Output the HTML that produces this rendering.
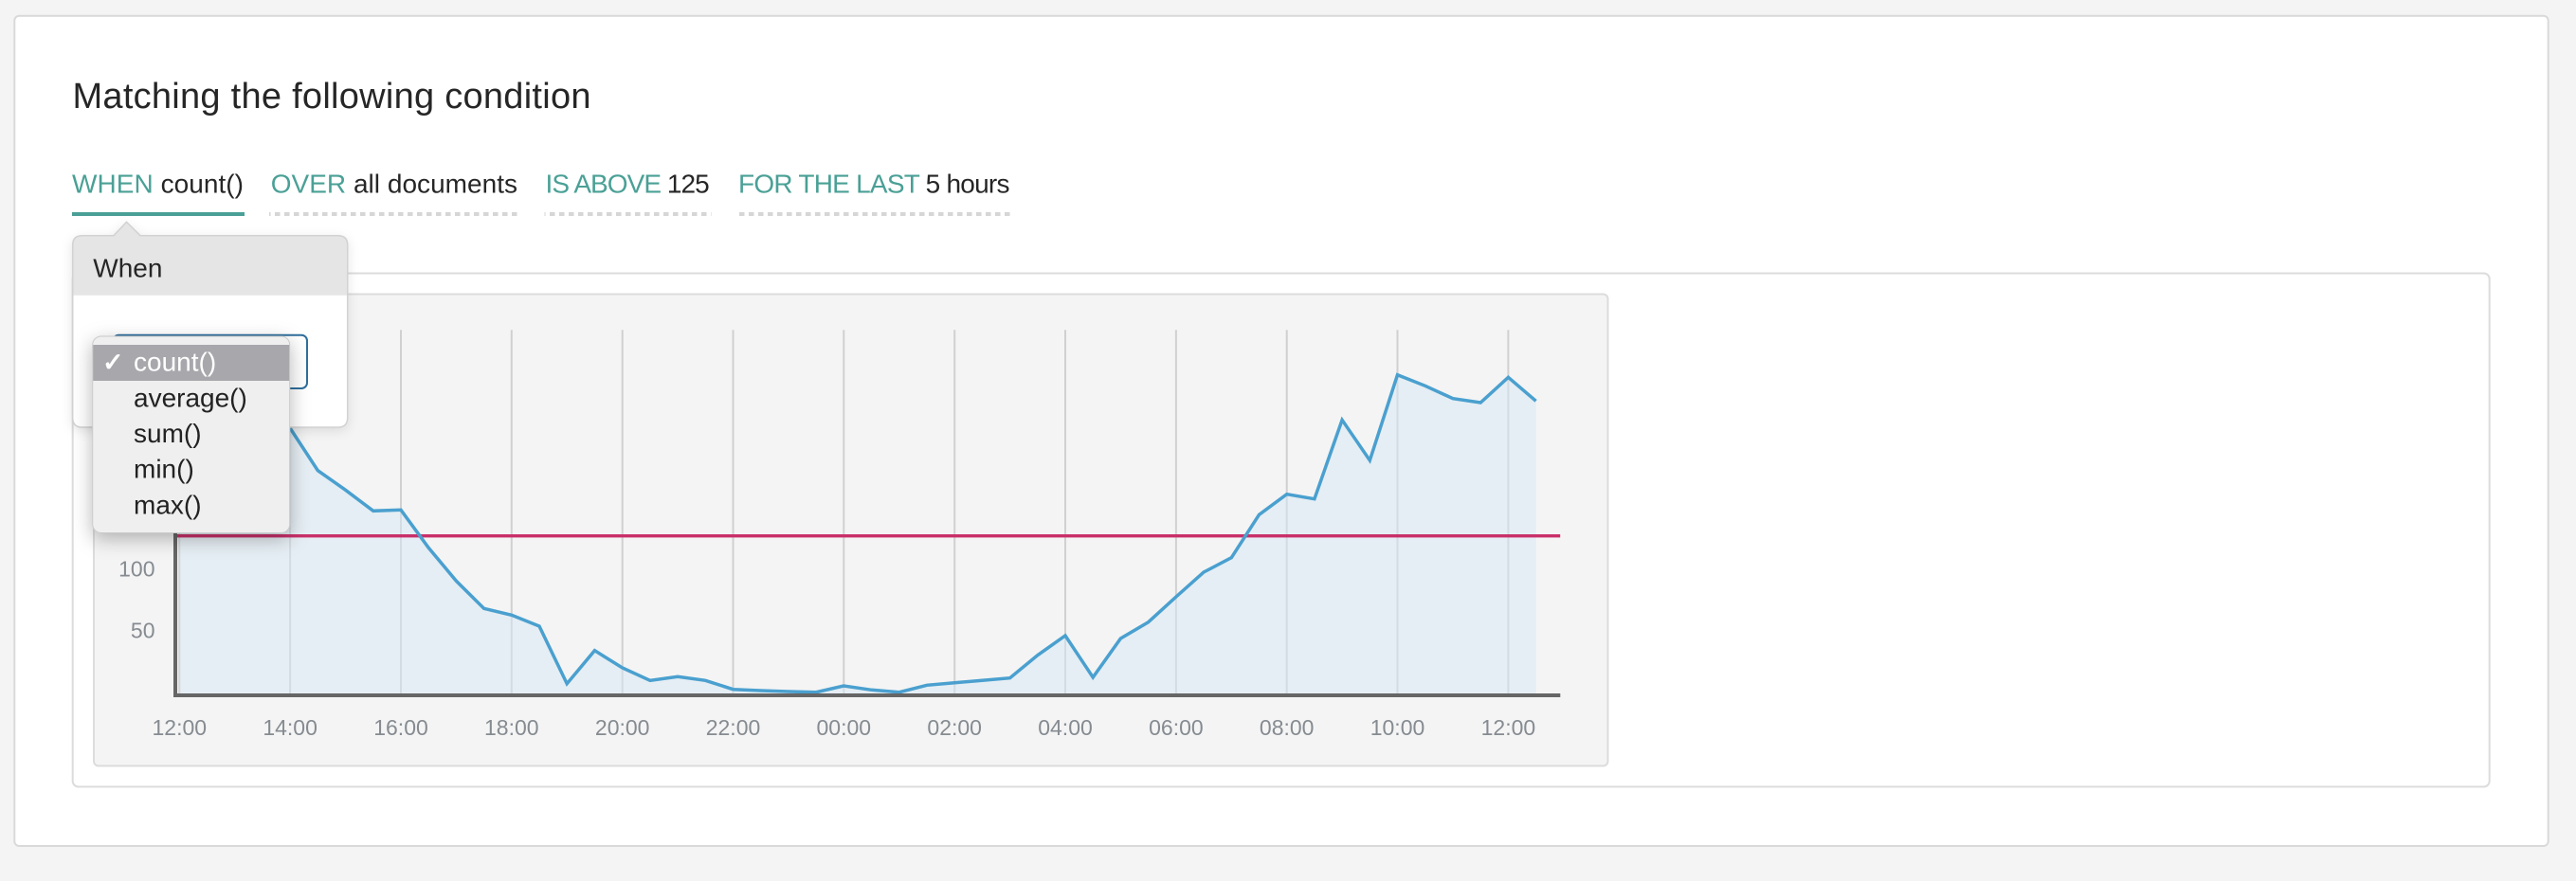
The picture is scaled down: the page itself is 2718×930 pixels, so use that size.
<!DOCTYPE html>
<html>
<head>
<meta charset="utf-8">
<style>
  html, body { margin:0; padding:0; background:#f4f4f4; }
  body { width:2718px; height:930px; overflow:hidden; }
  svg { display:block; font-family:"Liberation Sans", Arial, sans-serif; }
</style>
</head>
<body>
<svg width="2718" height="930" viewBox="0 0 2718 930" xmlns="http://www.w3.org/2000/svg">
  <defs>
    <filter id="popShadow" x="-20%" y="-20%" width="140%" height="150%">
      <feDropShadow dx="0" dy="3" stdDeviation="6" flood-color="#000" flood-opacity="0.12"/>
    </filter>
    <filter id="ddShadow" x="-30%" y="-30%" width="160%" height="160%">
      <feDropShadow dx="0" dy="6" stdDeviation="10" flood-color="#000" flood-opacity="0.28"/>
    </filter>
    <pattern id="dots" x="0" y="0" width="10" height="4" patternUnits="userSpaceOnUse">
      <rect x="0" y="0" width="5.5" height="4" fill="#d6d6d6"/>
    </pattern>
  </defs>

  <!-- page background -->
  <rect x="0" y="0" width="2718" height="930" fill="#f4f4f4"/>

  <!-- outer white panel -->
  <rect x="15.3" y="16.7" width="2673.4" height="876.3" rx="5" ry="5" fill="#ffffff" stroke="#d9d9d9" stroke-width="2"/>

  <!-- Title -->
  <text x="76.5" y="114" font-size="38" fill="#262626" textLength="547">Matching the following condition</text>

  <!-- Tabs -->
  <text x="76" y="203.3" font-size="28" textLength="181"><tspan fill="#4aa096">WHEN</tspan><tspan fill="#262626"> count()</tspan></text>
  <text x="285.7" y="203.3" font-size="28" textLength="260.3"><tspan fill="#4aa096">OVER</tspan><tspan fill="#262626"> all documents</tspan></text>
  <text x="575.5" y="203.3" font-size="28" textLength="173.2"><tspan fill="#4aa096">IS ABOVE</tspan><tspan fill="#262626"> 125</tspan></text>
  <text x="779" y="203.3" font-size="28" textLength="286.5"><tspan fill="#4aa096">FOR THE LAST</tspan><tspan fill="#262626"> 5 hours</tspan></text>

  <!-- Tab underlines -->
  <rect x="76" y="224" width="182" height="4" fill="#4aa096"/>
  <rect x="284" y="224" width="264" height="4" fill="url(#dots)"/>
  <rect x="574.5" y="224" width="176" height="4" fill="url(#dots)"/>
  <rect x="778" y="224" width="290" height="4" fill="url(#dots)"/>

  <!-- white chart container -->
  <rect x="76.7" y="288.5" width="2550" height="542" rx="6" ry="6" fill="#ffffff" stroke="#dcdcdc" stroke-width="2"/>

  <!-- gray chart panel -->
  <rect x="99" y="310.5" width="1597.5" height="498" rx="5" ry="5" fill="#f4f4f4" stroke="#dcdcdc" stroke-width="2"/>

  <!-- grid lines -->
  <g stroke="#d0d0d0" stroke-width="2">
    <line x1="189.3" y1="348.3" x2="189.3" y2="732"/>
    <line x1="306.1" y1="348.3" x2="306.1" y2="732"/>
    <line x1="423.0" y1="348.3" x2="423.0" y2="732"/>
    <line x1="539.8" y1="348.3" x2="539.8" y2="732"/>
    <line x1="656.7" y1="348.3" x2="656.7" y2="732"/>
    <line x1="773.5" y1="348.3" x2="773.5" y2="732"/>
    <line x1="890.3" y1="348.3" x2="890.3" y2="732"/>
    <line x1="1007.2" y1="348.3" x2="1007.2" y2="732"/>
    <line x1="1124.0" y1="348.3" x2="1124.0" y2="732"/>
    <line x1="1240.9" y1="348.3" x2="1240.9" y2="732"/>
    <line x1="1357.7" y1="348.3" x2="1357.7" y2="732"/>
    <line x1="1474.5" y1="348.3" x2="1474.5" y2="732"/>
    <line x1="1591.4" y1="348.3" x2="1591.4" y2="732"/>
  </g>

  <!-- area fill -->
  <polygon fill="#d6e8f4" fill-opacity="0.5" points="189.3,400 218.5,420 247.7,395 276.9,430 306.1,452 335.35,496.7 364.6,517.3 393.8,539.3 423.0,538.3 452.2,578.3 481.4,613.3 510.6,642.3 539.8,649.3 569.0,661 598.2,721.7 627.45,686.7 656.7,705 685.9,718.3 715.1,714.3 744.3,718.3 773.5,727.7 802.7,729 831.9,730 861.1,730.7 890.3,724 919.55,728.3 948.8,730.7 978.0,723.3 1007.2,720.7 1036.4,718.3 1065.6,715.7 1094.8,691.7 1124.0,671 1153.2,715 1182.4,674 1211.65,656.7 1240.9,630 1270.1,604 1299.3,588.7 1328.5,543.3 1357.7,521.7 1386.9,526.7 1416.1,443.3 1445.3,486 1474.5,395.7 1503.75,407.3 1533.0,420.7 1562.2,425 1591.4,398.3 1620.6,423.3 1620.6,732 189.3,732"/>

  <!-- threshold line -->
  <rect x="186.7" y="564" width="1459.5" height="3.4" fill="#c9306a"/>

  <!-- data line -->
  <polyline fill="none" stroke="#4aa0cf" stroke-width="3.5" stroke-linejoin="miter" points="189.3,400 218.5,420 247.7,395 276.9,430 306.1,452 335.35,496.7 364.6,517.3 393.8,539.3 423.0,538.3 452.2,578.3 481.4,613.3 510.6,642.3 539.8,649.3 569.0,661 598.2,721.7 627.45,686.7 656.7,705 685.9,718.3 715.1,714.3 744.3,718.3 773.5,727.7 802.7,729 831.9,730 861.1,730.7 890.3,724 919.55,728.3 948.8,730.7 978.0,723.3 1007.2,720.7 1036.4,718.3 1065.6,715.7 1094.8,691.7 1124.0,671 1153.2,715 1182.4,674 1211.65,656.7 1240.9,630 1270.1,604 1299.3,588.7 1328.5,543.3 1357.7,521.7 1386.9,526.7 1416.1,443.3 1445.3,486 1474.5,395.7 1503.75,407.3 1533.0,420.7 1562.2,425 1591.4,398.3 1620.6,423.3"/>

  <!-- axes -->
  <rect x="183" y="348.3" width="4" height="387.7" fill="#666666"/>
  <rect x="183" y="732" width="1463.3" height="4" fill="#666666"/>

  <!-- y labels -->
  <g font-size="23" fill="#858b91" text-anchor="end">
    <text x="163.5" y="608.3">100</text>
    <text x="163.5" y="673.3">50</text>
  </g>

  <!-- x labels -->
  <g font-size="23" fill="#858b91" text-anchor="middle">
    <text x="189.3" y="776">12:00</text>
    <text x="306.1" y="776">14:00</text>
    <text x="423.0" y="776">16:00</text>
    <text x="539.8" y="776">18:00</text>
    <text x="656.7" y="776">20:00</text>
    <text x="773.5" y="776">22:00</text>
    <text x="890.3" y="776">00:00</text>
    <text x="1007.2" y="776">02:00</text>
    <text x="1124.0" y="776">04:00</text>
    <text x="1240.9" y="776">06:00</text>
    <text x="1357.7" y="776">08:00</text>
    <text x="1474.5" y="776">10:00</text>
    <text x="1591.4" y="776">12:00</text>
  </g>

  <!-- popover -->
  <path filter="url(#popShadow)" fill="#ffffff" d="M86.7,248.7 L120,248.7 L133.5,234.3 L148,248.7 L356.7,248.7 Q366.7,248.7 366.7,258.7 L366.7,441 Q366.7,451 356.7,451 L86.7,451 Q76.7,451 76.7,441 L76.7,258.7 Q76.7,248.7 86.7,248.7 Z"/>
  <path fill="#e5e5e5" d="M86.7,248.7 L120,248.7 L133.5,234.3 L148,248.7 L356.7,248.7 Q366.7,248.7 366.7,258.7 L366.7,311.7 L76.7,311.7 L76.7,258.7 Q76.7,248.7 86.7,248.7 Z"/>
  <path fill="none" stroke="#d2d2d2" stroke-width="1.5" d="M86.7,248.7 L120,248.7 L133.5,234.3 L148,248.7 L356.7,248.7 Q366.7,248.7 366.7,258.7 L366.7,441 Q366.7,451 356.7,451 L86.7,451 Q76.7,451 76.7,441 L76.7,258.7 Q76.7,248.7 86.7,248.7 Z"/>
  <text x="98.3" y="292.5" font-size="28" fill="#262626">When</text>

  <!-- select box -->
  <rect x="119.3" y="353.7" width="204.7" height="56.3" rx="6" ry="6" fill="#ffffff" stroke="#2f6e9c" stroke-width="2"/>

  <!-- dropdown menu -->
  <rect x="97.7" y="355" width="208" height="207.5" rx="9" ry="9" fill="#efefef" stroke="#c9c9c9" stroke-width="1" filter="url(#ddShadow)"/>
  <rect x="98.2" y="364" width="207" height="38" fill="#a8a7ac"/>
  <g font-size="28">
    <text x="108" y="391.5" fill="#ffffff" font-size="27" font-weight="bold">✓</text>
    <text x="141" y="391.7" fill="#ffffff">count()</text>
    <text x="141" y="429.3" fill="#222222">average()</text>
    <text x="141" y="466.8" fill="#222222">sum()</text>
    <text x="141" y="504.3" fill="#222222">min()</text>
    <text x="141" y="542.3" fill="#222222">max()</text>
  </g>
</svg>
</body>
</html>
